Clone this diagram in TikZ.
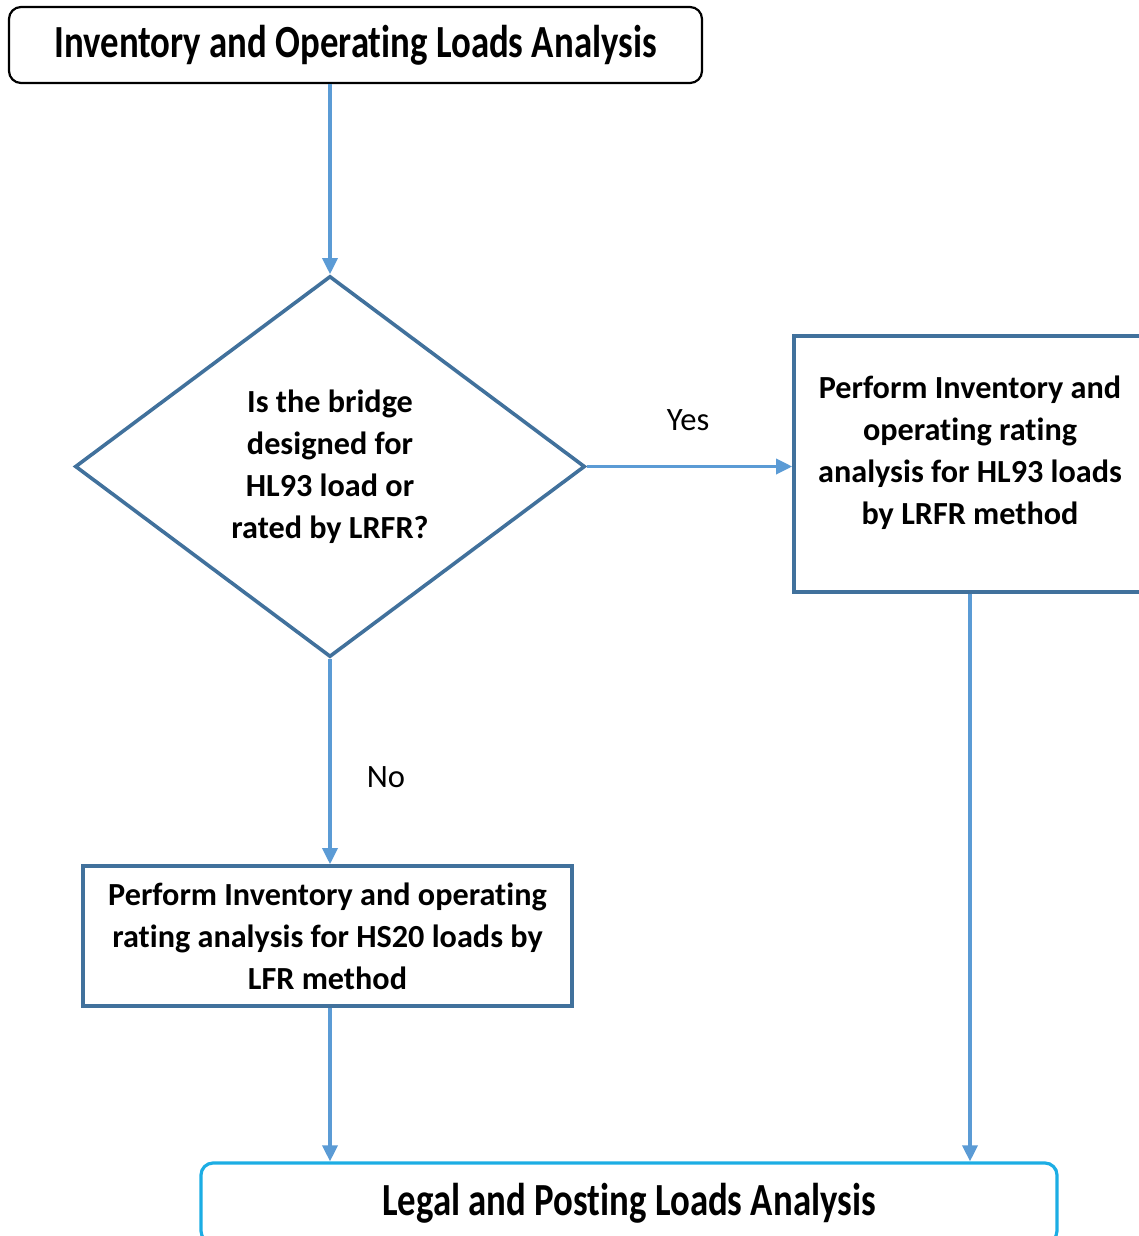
\documentclass[tikz,border=0pt]{standalone}
\usepackage{fontspec}
\setmainfont{Carlito}[Ligatures=NoCommon]
\newfontfamily\titlefont[FakeStretch=0.8,Ligatures=NoCommon]{Carlito}
\usetikzlibrary{shapes.geometric,arrows.meta}

\definecolor{boxblue}{HTML}{41719C}
\definecolor{arrowblue}{HTML}{5B9BD5}
\definecolor{legalblue}{HTML}{1CADE4}

\tikzstyle{titlebox} = [draw=black, line width=1.1pt, rounded corners=6pt, inner sep=0pt, font=\titlefont\bfseries\fontsize{23}{28}\selectfont]
\tikzstyle{stepbox} = [draw=boxblue, line width=1.8pt, inner sep=0pt, align=center, font=\bfseries\fontsize{16.1}{21}\selectfont]
\tikzstyle{steptext} = [inner sep=0pt, align=center, font=\bfseries\fontsize{16.1}{21}\selectfont]
\tikzstyle{decision} = [diamond, draw=boxblue, line width=1.8pt, inner sep=0pt, aspect=1.34, align=center, font=\bfseries\fontsize{16.1}{21}\selectfont]
\tikzstyle{flow} = [draw=arrowblue, line width=1.7pt, -{Triangle[length=8pt,width=7.5pt]}]
\tikzstyle{answer} = [inner sep=0pt, font=\fontsize{16.3}{18}\selectfont]

\begin{document}
\begin{tikzpicture}[x=0.5pt,y=-0.5pt]
      \useasboundingbox (0,0) rectangle (1139,1236);
      \clip (0,0) rectangle (1139,1236);
      \node[titlebox, minimum width=346.5pt, minimum height=38pt] (inventory) at (355.5,45) {Inventory and Operating Loads Analysis};
      \node[decision, minimum width=255pt, minimum height=190.5pt] (designed) at (330,466.5) {Is the bridge\\designed for\\HL93 load or\\rated by LRFR?};
      \node[stepbox, minimum width=176pt, minimum height=128pt] (lrfr) at (970,464) {};
      \node[steptext] (lrfrtext) at (970,452.5) {Perform Inventory and\\operating rating\\analysis for HL93 loads\\by LRFR method};
      \node[stepbox, minimum width=244.5pt, minimum height=70pt] (lfr) at (327.5,936) {Perform Inventory and operating\\rating analysis for HS20 loads by\\LFR method};
      \node[titlebox, draw=legalblue, line width=1.6pt, minimum width=428pt, minimum height=40pt] (legal) at (629,1203) {Legal and Posting Loads Analysis};
      \node[answer] (yes) at (688,420) {Yes};
      \node[answer] (no) at (386,777) {No};
      \draw[flow] (inventory.south -| designed.north) -- (designed.north);
      \draw[flow] (designed.east) -- (designed.east -| lrfr.west);
      \draw[flow] (designed.south) -- (designed.south |- lfr.north);
      \draw[flow] (lfr.south -| designed.south) -- (designed.south |- legal.north);
      \draw[flow] (lrfr.south) -- (lrfr.south |- legal.north);
    \end{tikzpicture}
\end{document}
